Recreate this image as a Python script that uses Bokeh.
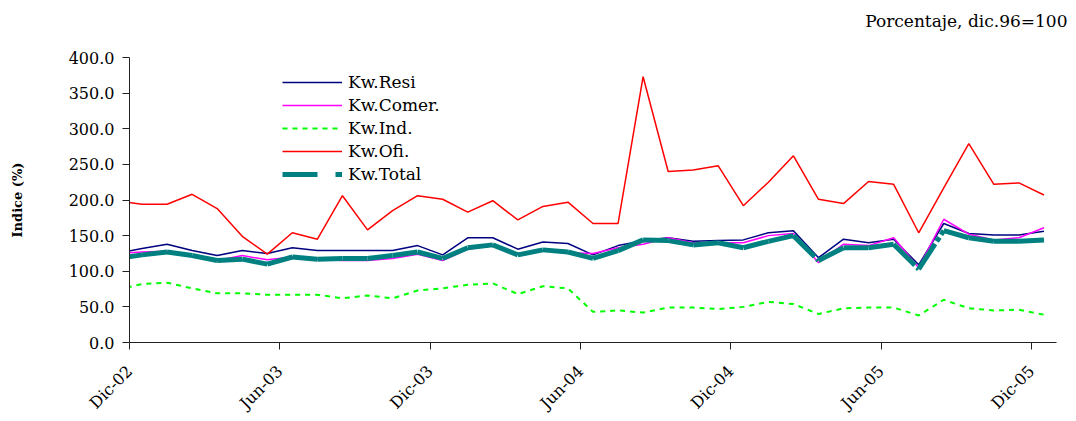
import math
import numpy as np
from bokeh.plotting import figure
from bokeh.models import (Range1d, FixedTicker, NumeralTickFormatter, Legend,
                          LegendItem, Title)
from bokeh.embed import file_html
from bokeh.resources import INLINE

# ---- data (index, dic.96 = 100), monthly Nov-02 .. Dic-05 ----
mnames = ["Ene", "Feb", "Mar", "Abr", "May", "Jun", "Jul", "Ago", "Sep", "Oct", "Nov", "Dic"]
months = ["Nov-02", "Dic-02"] + [f"{m}-{y:02d}" for y in (3, 4, 5) for m in mnames]

kw_resi = [125, 132, 138, 129, 122, 129, 125, 133, 129, 129, 129, 129, 136,
           123, 147, 147, 131, 141, 139, 123, 136, 143, 147, 142, 143,
           144, 154, 157, 119, 145, 140, 145, 109, 167, 153, 151, 151, 156]
kw_comer = [125, 127, 128, 121, 115, 122, 116, 120, 117, 115, 115, 118, 124,
            115, 131, 136, 124, 129, 126, 125, 133, 138, 147, 140, 140,
            140, 150, 153, 112, 138, 136, 147, 105, 173, 152, 144, 147, 161]
kw_ind = [74, 82, 84, 76, 69, 69, 67, 67, 67, 62, 66, 62, 73,
          76, 81, 83, 68, 79, 76, 43, 45, 42, 49, 49, 47,
          50, 57, 54, 40, 48, 49, 49, 38, 60, 48, 45, 46, 39]
kw_ofi = [199, 194, 194, 208, 188, 149, 124, 154, 145, 206, 158, 185, 206,
          201, 183, 199, 172, 191, 197, 167, 167, 373, 240, 242, 248,
          192, 225, 262, 201, 195, 226, 222, 154, 217, 279, 222, 224, 207]
kw_total = [118, 123, 127, 122, 115, 117, 110, 120, 117, 118, 118, 122, 127,
            118, 133, 137, 123, 130, 127, 118, 129, 144, 143, 137, 140,
            133, 142, 150, 115, 133, 133, 138, 103, 157, 147, 142, 142, 144]

tick_labels = ["Dic-02", "Jun-03", "Dic-03", "Jun-04", "Dic-04", "Jun-05", "Dic-05"]
y_ticks = [0, 50, 100, 150, 200, 250, 300, 350, 400]

# category centres; tick marks sit on the left boundary of each labelled month
x = np.arange(len(months)) - 0.5
tick_pos = [months.index(t) - 1 for t in tick_labels]

FONT = "DejaVu Serif"

p = figure(frame_width=927, frame_height=285,
           min_border_left=129, min_border_right=12, min_border_top=57, min_border_bottom=76,
           x_range=Range1d(0, len(months) - 1), y_range=Range1d(0, 400),
           output_backend="svg", toolbar_location=None, tools="")
p.outline_line_color = None
p.xgrid.visible = False
p.ygrid.visible = False
p.background_fill_color = "white"
p.border_fill_color = "white"

r_resi = p.line(x, kw_resi, line_color="#000080", line_width=1.5)
r_comer = p.line(x, kw_comer, line_color="#FF00FF", line_width=1.5)
r_ind = p.line(x, kw_ind, line_color="#00FF00", line_width=2, line_dash="5 5")
r_ofi = p.line(x, kw_ofi, line_color="#FF0000", line_width=1.5)
r_total = p.segment(x0=x[:-1], y0=kw_total[:-1], x1=x[1:], y1=kw_total[1:],
                    line_color="#008080", line_width=5, line_dash="30 3 5 3")
# legend-only glyph (no drawn data) to show the series' dash pattern
r_total_leg = p.line(x=[np.nan], y=[np.nan], line_color="#008080", line_width=5,
                     line_dash="35 18 7 18")

legend = Legend(items=[
    LegendItem(label="Kw.Resi", renderers=[r_resi]),
    LegendItem(label="Kw.Comer.", renderers=[r_comer]),
    LegendItem(label="Kw.Ind.", renderers=[r_ind]),
    LegendItem(label="Kw.Ofi.", renderers=[r_ofi]),
    LegendItem(label="Kw.Total", renderers=[r_total_leg]),
], location=(153, 158))
legend.border_line_color = None
legend.background_fill_alpha = 0
legend.padding = 0
legend.margin = 0
legend.spacing = 3
legend.glyph_width = 60
legend.glyph_height = 20
legend.label_height = 20
legend.label_standoff = 6
legend.label_text_font = FONT
legend.label_text_font_size = "17px"
legend.label_text_color = "#000000"
p.add_layout(legend, "center")

# y axis
ya = p.yaxis[0]
ya.ticker = FixedTicker(ticks=y_ticks)
ya.formatter = NumeralTickFormatter(format="0.0")
ya.minor_tick_line_color = None
ya.major_tick_in = 0
ya.major_tick_out = 7
ya.major_label_standoff = 8
ya.major_label_text_font = FONT
ya.major_label_text_font_size = "16px"
ya.major_label_text_color = "#000000"
ya.axis_line_color = "#222222"
ya.major_tick_line_color = "#222222"
ya.axis_label = "Indice (%)"
ya.axis_label_text_font = FONT
ya.axis_label_text_font_style = "bold"
ya.axis_label_text_font_size = "13px"
ya.axis_label_text_color = "#000000"
ya.axis_label_standoff = 41

# x axis
xa = p.xaxis[0]
xa.ticker = FixedTicker(ticks=tick_pos)
xa.major_label_overrides = {tp: lab for tp, lab in zip(tick_pos, tick_labels)}
xa.major_label_orientation = math.pi / 4
xa.minor_tick_line_color = None
xa.major_tick_in = 0
xa.major_tick_out = 7
xa.major_label_standoff = 19
xa.major_label_text_font = FONT
xa.major_label_text_font_size = "16px"
xa.major_label_text_color = "#000000"
xa.axis_line_color = "#222222"
xa.major_tick_line_color = "#222222"

# second (blank) line only reserves space so the note sits higher above the frame
title = Title(text="Porcentaje, dic.96=100\n ", align="right", offset=-11,
              standoff=10, vertical_align="top", text_font=FONT,
              text_font_size="17px", text_font_style="normal", text_color="#000000")
p.add_layout(title, "above")

open("out.html", "w").write(file_html(p, INLINE))
